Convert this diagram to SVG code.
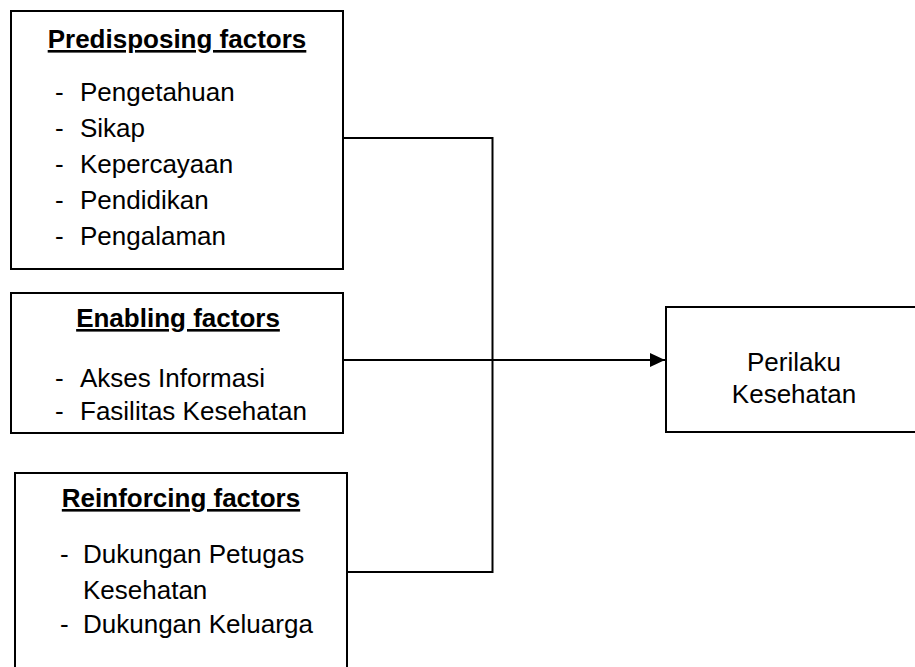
<svg xmlns="http://www.w3.org/2000/svg" width="915" height="667" viewBox="0 0 915 667">
<style>
.box{fill:#fff;stroke:#000;stroke-width:2}
.t{font-family:"Liberation Sans",Arial,sans-serif;font-size:26px;fill:#000}
.h{font-weight:bold;text-decoration:underline;text-anchor:middle}
.c{text-anchor:middle}
.ln{fill:none;stroke:#000;stroke-width:2}
</style>
<defs>
<marker id="arr" markerWidth="15" markerHeight="14" refX="15" refY="7" orient="auto" markerUnits="userSpaceOnUse">
<path d="M0,0 L15,7 L0,14 Z" fill="#000"/>
</marker>
</defs>
<g id="connectors">
<path class="ln" d="M343,138 H492.5 V572 H347"/>
<path class="ln" d="M343,360 H665" marker-end="url(#arr)"/>
</g>
<g id="predisposing">
<rect class="box" x="11" y="11" width="332" height="258"/>
<text class="t h" x="177" y="48">Predisposing factors</text>
<text class="t" x="55" y="101">-</text><text class="t" x="80" y="101">Pengetahuan</text>
<text class="t" x="55" y="137">-</text><text class="t" x="80" y="137">Sikap</text>
<text class="t" x="55" y="173">-</text><text class="t" x="80" y="173">Kepercayaan</text>
<text class="t" x="55" y="209">-</text><text class="t" x="80" y="209">Pendidikan</text>
<text class="t" x="55" y="245">-</text><text class="t" x="80" y="245">Pengalaman</text>
</g>
<g id="enabling">
<rect class="box" x="11" y="293" width="332" height="140"/>
<text class="t h" x="178" y="327">Enabling factors</text>
<text class="t" x="55" y="387">-</text><text class="t" x="80" y="387">Akses Informasi</text>
<text class="t" x="55" y="420">-</text><text class="t" x="80" y="420">Fasilitas Kesehatan</text>
</g>
<g id="reinforcing">
<rect class="box" x="15" y="473" width="332" height="210"/>
<text class="t h" x="181" y="507">Reinforcing factors</text>
<text class="t" x="60" y="563">-</text><text class="t" x="83" y="563">Dukungan Petugas</text>
<text class="t" x="83" y="599">Kesehatan</text>
<text class="t" x="60" y="633">-</text><text class="t" x="83" y="633">Dukungan Keluarga</text>
</g>
<g id="perilaku">
<rect class="box" x="666" y="307" width="258" height="125"/>
<text class="t c" x="794" y="371">Perilaku</text>
<text class="t c" x="794" y="403">Kesehatan</text>
</g>
</svg>
